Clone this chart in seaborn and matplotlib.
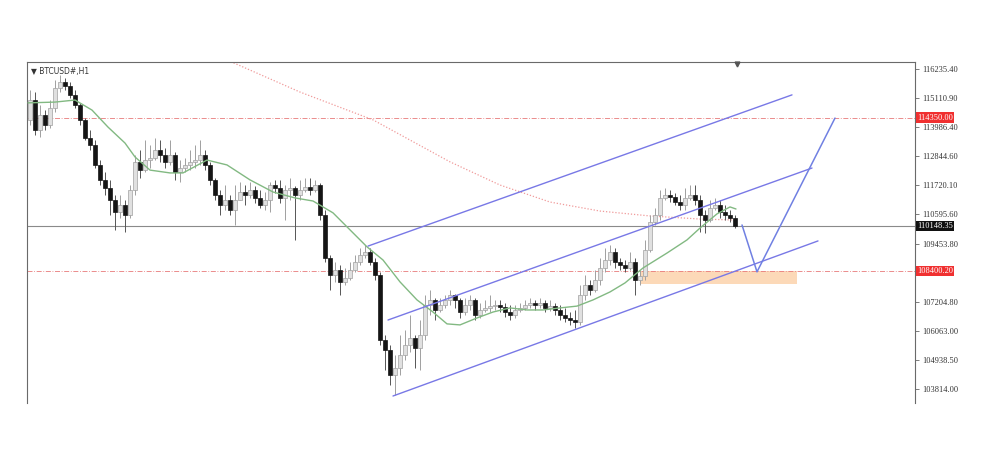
import numpy as np
import pandas as pd
import seaborn as sns
import matplotlib.pyplot as plt

# BTCUSD H1 candles
first_open = 114260
close = [115030, 113870, 114450, 114060, 114720, 115500, 115730, 115580, 115230, 114840,
         114260, 113560, 113290, 112510, 111930, 111620, 111150, 110680, 110960, 110570,
         111540, 112630, 112310, 112700, 112780, 113090, 112900, 112630, 112900, 112240,
         112390, 112510, 112630, 112700, 112900, 112510, 111930, 111340, 110960, 111150,
         110760, 111150, 111460, 111340, 111540, 111230, 110960, 111150, 111730, 111620,
         111230, 111540, 111620, 111340, 111540, 111650, 111540, 111730, 110570, 108900,
         108240, 108430, 107970, 108120, 108430, 108740, 109020, 109130, 108740, 108240,
         105720, 105330, 104360, 104630, 105130, 105520, 105790, 105400, 105910, 107070,
         107270, 106880, 107070, 107270, 107460, 107270, 106800, 107070, 107270, 106690,
         106880, 106960, 107030, 107070, 107000, 106800, 106690, 106880, 106960, 107070,
         107150, 107070, 107150, 106960, 107030, 106880, 106690, 106570, 106490, 106410,
         107460, 107850, 107660, 108040, 108510, 108820, 109130, 108740, 108630, 108510,
         108740, 108040, 108200, 109210, 110300, 110570, 111230, 111340, 111270, 111070,
         110960, 111230, 111340, 111150, 110570, 110370, 110840, 110960, 110680, 110570,
         110450, 110148.35]
high = [115420, 115340, 114840, 114640, 115030, 115810, 116000, 115890, 115730, 115420,
        114920, 114330, 113870, 113480, 112700, 112240, 111930, 111340, 111340, 111150,
        111730, 112900, 113090, 113480, 113290, 113560, 113480, 113170, 113480, 113010,
        112700, 112780, 113090, 113290, 113480, 113090, 112630, 112000, 111540, 111730,
        111340, 111730, 111850, 111730, 111850, 111690, 111540, 111460, 111850, 111930,
        111930, 111730, 112000, 111690, 111930, 112000, 112000, 111930, 111810, 110760,
        109020, 108740, 108630, 108510, 108740, 109020, 109290, 109400, 109290, 108900,
        108360, 105910, 105520, 105130, 105910, 106100, 106690, 105910, 106490, 107460,
        107660, 107350, 107350, 107460, 107660, 107500, 107350, 107350, 107460, 107350,
        107150, 107270, 107460, 107270, 107270, 107150, 107070, 107070, 107150, 107270,
        107350, 107270, 107350, 107270, 107270, 107150, 107070, 106960, 106800, 106880,
        107850, 108240, 108040, 108430, 108900, 109290, 109400, 109290, 108900, 108820,
        109130, 108900, 108430, 109600, 110570, 110840, 111540, 111620, 111540, 111420,
        111340, 111620, 111730, 111730, 111340, 110760, 111150, 111230, 111150, 110960,
        110760, 110570]
low = [114060, 113670, 113600, 113870, 113950, 114570, 115340, 115420, 115110, 114720,
       114060, 113480, 113090, 112390, 111730, 111340, 110570, 109990, 110450, 109910,
       110450, 111340, 112000, 112240, 112390, 112700, 112630, 112390, 112510, 111930,
       111850, 112240, 112310, 112390, 112510, 112310, 111730, 111150, 110570, 110760,
       110570, 110180, 111150, 110960, 111230, 111030, 110840, 110760, 110680, 111420,
       111030, 110370, 111150, 109600, 111150, 111460, 111340, 111460, 110370, 108740,
       107660, 107970, 107460, 107850, 108040, 108360, 108630, 108900, 108630, 108040,
       105520, 104550, 103970, 103580, 104360, 104940, 105250, 104630, 104550, 105720,
       106690, 106490, 106800, 106960, 107070, 106960, 106570, 106690, 106880, 106490,
       106570, 106800, 106800, 106880, 106800, 106610, 106490, 106570, 106800, 106880,
       106960, 106880, 106960, 106800, 106840, 106690, 106490, 106410, 106300, 106180,
       106300, 107270, 107460, 107580, 107850, 108360, 108630, 108510, 108430, 108360,
       108430, 107460, 107850, 108040, 109130, 110180, 110370, 111150, 111070, 110960,
       110760, 110760, 111150, 110960, 109910, 109870, 110300, 110760, 110450, 110370,
       110300, 110060]

# green moving average (bar index, price)
ma_fast_idx = [-0.4, 5, 9, 12.4, 15.6, 19, 21, 24, 28, 30.6, 35.4, 39.4, 44, 48.6, 53, 56.6,
               60.6, 64, 67.4, 70.6, 74, 77.4, 80.6, 83.4, 86, 89.4, 92.6, 96, 99.4, 102.6,
               106, 109.4, 112.6, 116, 119, 122.6, 127.4, 131.4, 134, 137.4, 140, 141.2]
ma_fast_val = [114920, 114950, 115030, 114640, 113980, 113360, 112820, 112310, 112200, 112200,
               112700, 112510, 111930, 111460, 111230, 111110, 110650, 109990, 109330, 108820,
               107970, 107270, 106800, 106340, 106300, 106570, 106800, 106960, 106880, 106880,
               106960, 107030, 107270, 107580, 107930, 108510, 109090, 109600, 110060, 110610,
               110880, 110800]

# red dotted slow moving average
ma_slow_idx = [39, 54, 68.6, 84, 94, 104, 114, 124, 134, 141.4]
ma_slow_val = [116620, 115340, 114260, 112630, 111730, 111070, 110720, 110530, 110410, 110370]

# channel lines and projected path
channel_top = ([67.6, 152.4], [109360, 115230])
channel_mid = ([71.6, 156.4], [106490, 112390])
channel_low = ([72.6, 157.6], [103540, 109560])
path_idx = [142.4, 145.4, 161]
path_val = [110180, 108360, 114330]

# levels and support zone
level_high = 114350.00
level_low = 108400.20
last_price = 110148.35
zone_idx = [122, 153.4]
zone_val = [107890, 108400]

price_ticks = [116235.40, 115110.90, 113986.40, 112844.60, 111720.10, 110595.60,
               109453.80, 107204.80, 106063.00, 104938.50, 103814.00]

sns.set_style('white')
plt.rcParams['font.family'] = ['Liberation Serif', 'DejaVu Sans']

fig = plt.figure(figsize=(10, 4.71), dpi=100)
ax = fig.add_axes([0.027, 0.1444, 0.888, 0.724])

idx = np.arange(len(close))
opens = np.array([first_open] + close[:-1])
close_a = np.array(close)
high_a = np.maximum.reduce([np.array(high), opens, close_a])
low_a = np.minimum.reduce([np.array(low), opens, close_a])
bull = close_a >= opens

# orange support zone
ax.fill_between(zone_idx, zone_val[0], zone_val[1], color='#fcd9b8', lw=0, zorder=1)

# horizontal levels
ax.axhline(level_high, color='#e87a7a', lw=0.6, ls=(0, (6, 2, 1, 2)), zorder=1)
ax.axhline(level_low, color='#e87a7a', lw=0.6, ls=(0, (6, 2, 1, 2)), zorder=1)
ax.axhline(last_price, color='#8a8a8a', lw=0.8, zorder=1)

# slow MA
sns.lineplot(x=ma_slow_idx, y=ma_slow_val, ax=ax, color='#f09a9a', lw=0.9,
             linestyle=(0, (1, 1.5)), zorder=2)

# candles
ax.vlines(idx[bull], low_a[bull], high_a[bull], color='#a0a0a0', lw=0.7, zorder=3)
ax.vlines(idx[~bull], low_a[~bull], high_a[~bull], color='#555555', lw=0.7, zorder=3)
ax.bar(idx[bull], close_a[bull] - opens[bull], bottom=opens[bull], width=0.65,
       color='#e0e0e0', edgecolor='#a0a0a0', lw=0.5, zorder=4)
ax.bar(idx[~bull], close_a[~bull] - opens[~bull], bottom=opens[~bull], width=0.65,
       color='#151515', edgecolor='#151515', lw=0.5, zorder=4)

# fast MA
sns.lineplot(x=ma_fast_idx, y=ma_fast_val, ax=ax, color='#82b982', lw=1.0, zorder=5)

# channel + projection
for xs, ys in (channel_top, channel_mid, channel_low):
    sns.lineplot(x=xs, y=ys, ax=ax, color='#7878e6', lw=1.0, zorder=6)
sns.lineplot(x=path_idx, y=path_val, ax=ax, color='#7080e2', lw=1.1, sort=False,
             estimator=None, zorder=6)

ax.set_xlim(-0.6, 177)
ax.set_ylim(103269, 116507)

# axis styling: price scale on the right
ax.yaxis.tick_right()
ax.set_yticks(price_ticks)
ax.set_yticklabels([f'{v:.2f}' for v in price_ticks])
ax.tick_params(axis='y', labelsize=6, length=3, width=0.6, color='#666666',
               labelcolor='#333333', pad=2, right=True, left=False)
ax.set_xticks([])
ax.set_xlabel('')
ax.set_ylabel('')
for side in ('left', 'top', 'right'):
    ax.spines[side].set_visible(True)
    ax.spines[side].set_color('#6a6a6a')
    ax.spines[side].set_linewidth(0.8)
ax.spines['bottom'].set_visible(False)

# price labels on the scale
tr = ax.get_yaxis_transform()
for val, bg in ((level_high, '#f03030'), (last_price, '#111111'), (level_low, '#f03030')):
    ax.text(1.0025, val, f'{val:.2f}', transform=tr, ha='left', va='center', fontsize=6,
            color='white', zorder=10, clip_on=False,
            bbox=dict(boxstyle='square,pad=0.15', fc=bg, ec='none'))

# symbol label and shift marker
ax.text(0.004, 0.985, '▼ BTCUSD#,H1', transform=ax.transAxes, ha='left', va='top',
        fontsize=5.5, color='#333333', family=['DejaVu Sans'])
ax.plot([141.4], [116420], marker='v', ms=3.5, color='#555555', clip_on=False, zorder=10)

fig.savefig('out.png', dpi=100)
